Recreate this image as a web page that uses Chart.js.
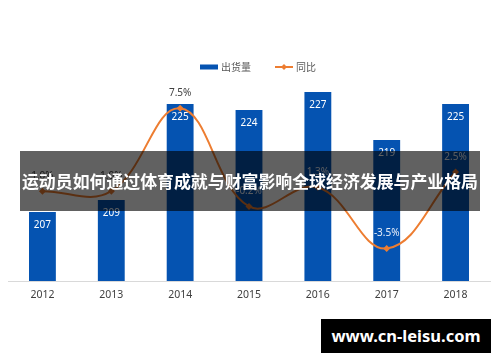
<!DOCTYPE html>
<html>
<head>
<meta charset="utf-8">
<script src="https://cdn.jsdelivr.net/npm/chart.js@4"></script>
<style>
  html, body { margin: 0; padding: 0; background: #fff; }
  #wrap { position: relative; width: 500px; height: 362px; }
  #banner {
    position: absolute; left: 20px; top: 151px; width: 460px; height: 60px;
    background: rgba(0, 0, 0, 0.62);
  }
  #banner span {
    position: absolute; left: 0; right: 0; top: 22px; text-align: center;
    font: bold 16.9px "Noto Sans CJK SC", sans-serif; color: #fff; line-height: 1; white-space: nowrap;
  }
  #mark {
    position: absolute; left: 321px; top: 319px; width: 170px; height: 34px;
    background: #000; color: #fff; text-align: center;
    font: bold 16.5px "Noto Sans", sans-serif; line-height: 34px;
  }
</style>
</head>
<body>
<div id="wrap">
  <canvas id="myChart" width="500" height="362"></canvas>
  <div id="banner"><span>运动员如何通过体育成就与财富影响全球经济发展与产业格局</span></div>
  <div id="mark">www.cn-leisu.com</div>
</div>
<script>
const years = ['2012', '2013', '2014', '2015', '2016', '2017', '2018'];
const shipments = [207, 209, 225, 224, 227, 219, 225];   // 出货量
const yoy = [1.0, 1.0, 7.5, -0.2, 1.3, -3.5, 2.5];       // 同比 %

const BLUE = '#0553b1';
const ORANGE = '#ed7d31';
const FONT = '"Noto Sans", "Noto Sans CJK SC", sans-serif';

// value labels + legend, drawn by hand since no datalabels plugin is loaded
const labelsPlugin = {
  id: 'labels',
  afterDatasetsDraw(chart) {
    const ctx = chart.ctx;
    const bars = chart.getDatasetMeta(0).data;
    const pts = chart.getDatasetMeta(1).data;
    ctx.save();
    ctx.textAlign = 'center';
    ctx.textBaseline = 'middle';
    ctx.font = '10px ' + FONT;
    ctx.fillStyle = '#fff';
    bars.forEach((b, i) => {
      ctx.fillText(shipments[i], b.x, b.y + 13);
    });
    pts.forEach((p, i) => {
      const y = p.y - 15;
      ctx.fillStyle = y > bars[i].y ? '#e8eef8' : '#404040';
      ctx.fillText(yoy[i].toFixed(1) + '%', p.x, y);
    });

    // legend
    ctx.textAlign = 'left';
    ctx.font = '10px "Noto Sans CJK SC", sans-serif';
    ctx.fillStyle = BLUE;
    ctx.fillRect(200, 64.5, 18, 5);
    ctx.fillStyle = '#595959';
    ctx.fillText('出货量', 221, 67);
    ctx.strokeStyle = ORANGE;
    ctx.lineWidth = 2;
    ctx.beginPath();
    ctx.moveTo(275, 67);
    ctx.lineTo(293, 67);
    ctx.stroke();
    ctx.fillStyle = ORANGE;
    ctx.beginPath();
    ctx.moveTo(284, 64); ctx.lineTo(287, 67); ctx.lineTo(284, 70); ctx.lineTo(281, 67);
    ctx.closePath();
    ctx.fill();
    ctx.fillStyle = '#595959';
    ctx.fillText('同比', 296, 67);
    ctx.restore();
  }
};

const ctx = document.getElementById('myChart').getContext('2d');
const myChart = new Chart(ctx, {
  data: {
    labels: years,
    datasets: [
      {
        type: 'bar',
        label: '出货量',
        data: shipments,
        backgroundColor: BLUE,
        yAxisID: 'y',
        barPercentage: 0.39,
        categoryPercentage: 1,
        order: 2
      },
      {
        type: 'line',
        label: '同比',
        data: yoy,
        borderColor: ORANGE,
        backgroundColor: ORANGE,
        borderWidth: 2,
        tension: 0.4,
        pointStyle: 'rectRot',
        pointRadius: 3.5,
        pointBorderWidth: 0,
        yAxisID: 'y2',
        order: 1
      }
    ]
  },
  options: {
    responsive: false,
    animation: false,
    layout: { padding: { left: 8, right: 10, top: 86, bottom: 0 } },
    plugins: { legend: { display: false }, tooltip: { enabled: false } },
    scales: {
      x: {
        grid: { display: false, drawTicks: false },
        border: { display: true, color: '#d9d9d9', width: 1 },
        ticks: { color: '#404040', font: { family: FONT, size: 10.5 }, padding: 8 },
        afterFit(scale) { scale.height = 81; }
      },
      y: { display: false, min: 195.5, max: 228 },
      y2: { display: false, min: -6.05, max: 9.25 }
    }
  },
  plugins: [labelsPlugin]
});
</script>
</body>
</html>
